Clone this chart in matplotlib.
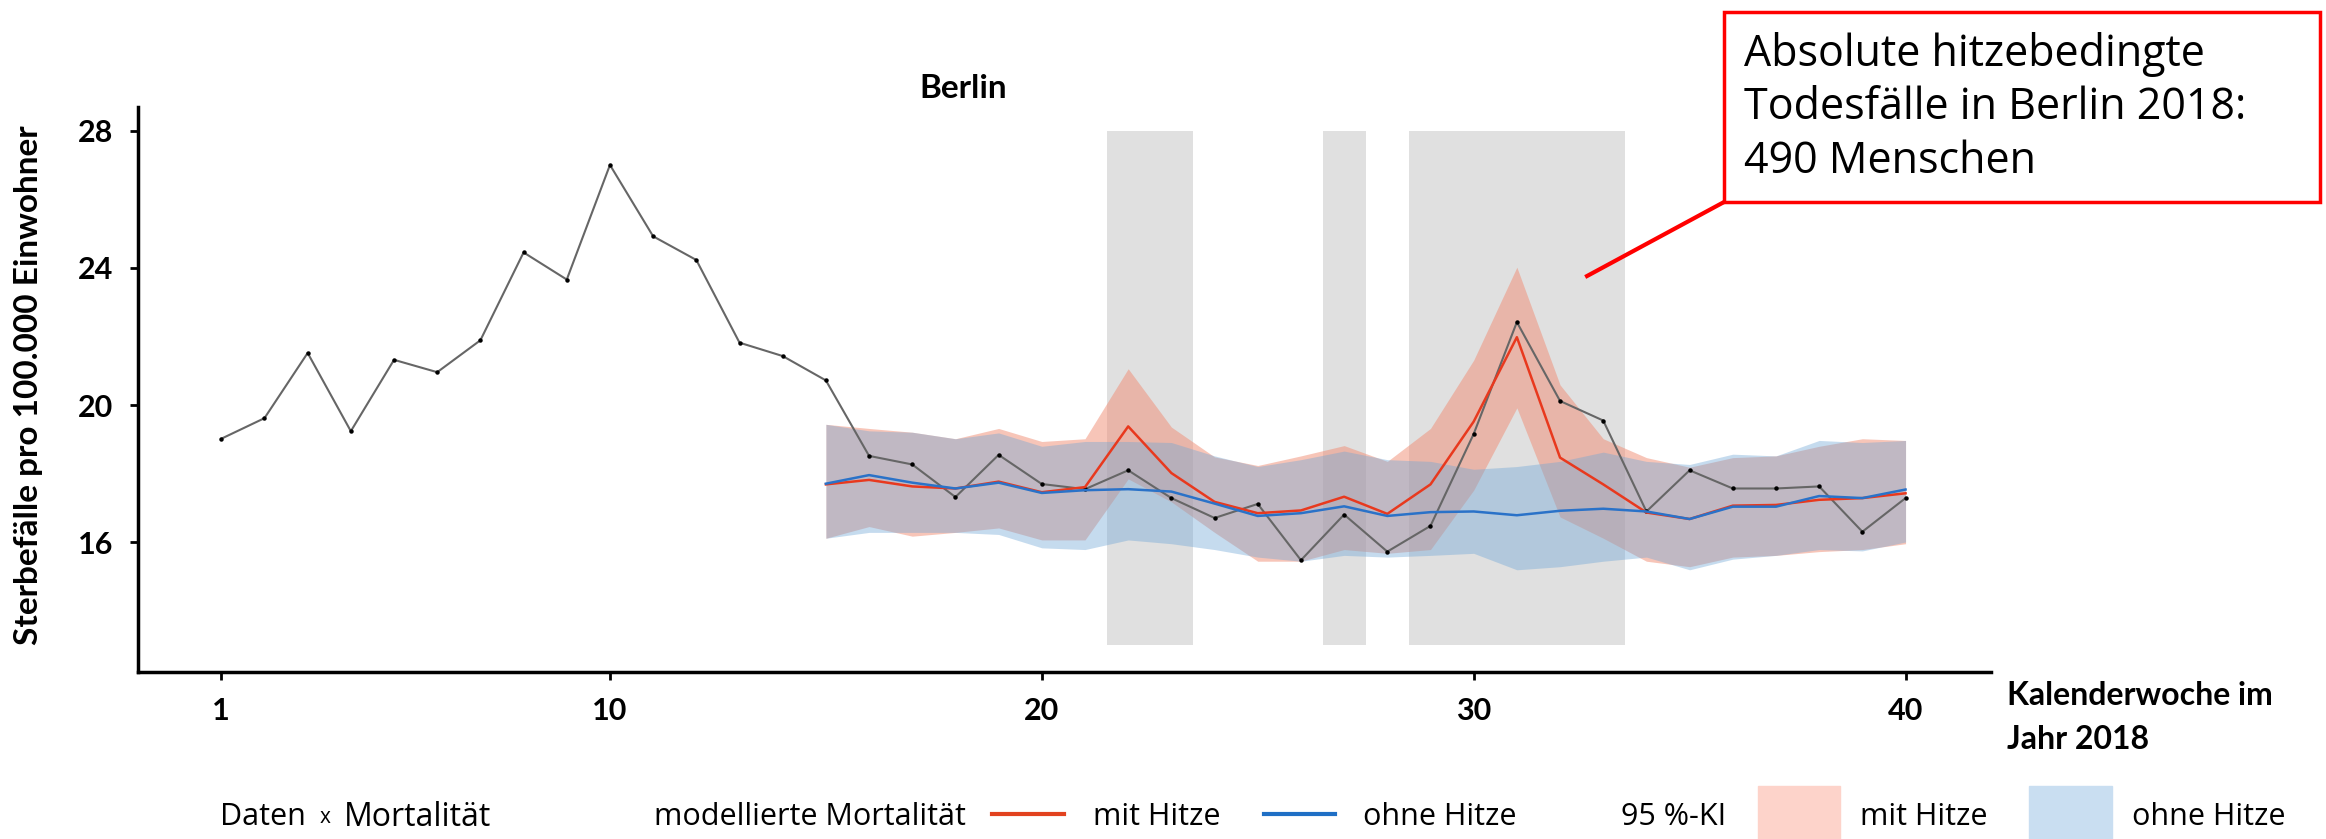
import matplotlib
matplotlib.use("Agg")
import matplotlib.pyplot as plt
from matplotlib.lines import Line2D
from matplotlib.patches import Rectangle

# observed mortality, weeks 1..40
weeks = list(range(1, 41))
observed = [19.02, 19.62, 21.52, 19.24, 21.32, 20.96, 21.89, 24.45, 23.66, 27.0,
            24.92, 24.23, 21.82, 21.43, 20.72, 18.52, 18.27, 17.32, 18.55, 17.70,
            17.55, 18.10, 17.29, 16.71, 17.12, 15.48, 16.81, 15.73, 16.48, 19.16,
            22.42, 20.12, 19.55, 16.90, 18.10, 17.57, 17.57, 17.63, 16.31, 17.29]

# modelled mortality, weeks 15..40
model_weeks = list(range(15, 41))
mit_hitze = [17.69, 17.82, 17.63, 17.57, 17.77, 17.46, 17.61, 19.38, 18.02, 17.18,
             16.85, 16.93, 17.33, 16.83, 17.69, 19.52, 21.98, 18.47, 17.69, 16.87,
             16.68, 17.07, 17.09, 17.24, 17.29, 17.43]
ohne_hitze = [17.71, 17.96, 17.74, 17.57, 17.74, 17.44, 17.52, 17.55, 17.48, 17.13,
              16.77, 16.85, 17.05, 16.77, 16.88, 16.90, 16.79, 16.92, 16.98, 16.90,
              16.68, 17.04, 17.04, 17.35, 17.29, 17.54]
mit_hi = [19.44, 19.32, 19.21, 19.02, 19.32, 18.94, 19.02, 21.06, 19.36, 18.49,
          18.24, 18.52, 18.82, 18.36, 19.32, 21.31, 24.02, 20.59, 19.02, 18.47,
          18.19, 18.47, 18.52, 18.80, 19.02, 18.97]
mit_lo = [16.12, 16.46, 16.18, 16.29, 16.42, 16.07, 16.07, 17.85, 17.18, 16.29,
          15.45, 15.45, 15.79, 15.68, 15.79, 17.52, 19.92, 16.74, 16.12, 15.45,
          15.29, 15.57, 15.62, 15.73, 15.79, 15.96]
ohne_hi = [19.44, 19.25, 19.21, 19.02, 19.19, 18.80, 18.94, 18.94, 18.91, 18.52,
           18.21, 18.41, 18.66, 18.41, 18.36, 18.13, 18.21, 18.36, 18.63, 18.36,
           18.27, 18.57, 18.52, 18.97, 18.91, 18.97]
ohne_lo = [16.12, 16.29, 16.29, 16.29, 16.23, 15.84, 15.79, 16.07, 15.96, 15.79,
           15.57, 15.45, 15.62, 15.57, 15.62, 15.68, 15.20, 15.29, 15.45, 15.57,
           15.20, 15.51, 15.62, 15.79, 15.75, 16.01]

# heat wave periods (start, end week)
heat_periods = [(21.5, 23.5), (26.5, 27.5), (28.5, 33.5)]

x_ticks = [1, 10, 20, 30, 40]
y_ticks = [16, 20, 24, 28]

RED = "#e8391e"
BLUE = "#2a72c8"
FONT = "Lato"

fig = plt.figure(figsize=(23.26, 8.39), dpi=100)
ax = fig.add_axes([0.0593, 0.199, 0.7967, 0.6735])

for a, b in heat_periods:
    ax.fill_between([a, b], 13, 28, color="#e0e0e0", lw=0, zorder=1)

ax.fill_between(model_weeks, mit_lo, mit_hi, color="#f08c73", alpha=0.5, lw=0, zorder=2)
ax.fill_between(model_weeks, ohne_lo, ohne_hi, color="#6fa6d6", alpha=0.4, lw=0, zorder=3)

ax.plot(weeks, observed, color="#666666", lw=1.5, zorder=4)
ax.plot(weeks, observed, "o", color="black", ms=2.2, zorder=5)
ax.plot(model_weeks, mit_hitze, color=RED, lw=1.8, zorder=6)
ax.plot(model_weeks, ohne_hitze, color=BLUE, lw=1.8, zorder=6)

ax.set_xlim(-0.93, 41.98)
ax.set_ylim(12.22, 28.69)
ax.set_xticks(x_ticks)
ax.set_yticks(y_ticks)
ax.set_xticklabels([str(t) for t in x_ticks], fontsize=22, fontweight="bold", family=FONT)
ax.set_yticklabels([str(t) for t in y_ticks], fontsize=22, fontweight="bold", family=FONT)
ax.tick_params(axis="both", length=6, width=2, pad=12)
for s in ["top", "right"]:
    ax.spines[s].set_visible(False)
for s in ["left", "bottom"]:
    ax.spines[s].set_linewidth(2.5)

ax.set_ylabel("Sterbefälle pro 100.000 Einwohner", fontsize=24, fontweight="bold",
              family=FONT, va="center")
ax.yaxis.set_label_coords(-0.0588, 0.508)
fig.text(0.414, 0.894, "Berlin", fontsize=24, fontweight="bold", family=FONT,
         ha="center", va="center")
fig.text(0.8629, 0.188, "Kalenderwoche im\nJahr 2018", fontsize=23, fontweight="bold",
         family=FONT, ha="left", va="top", linespacing=1.6)

# legend row
LEG = "Open Sans"
ly = 0.026
fig.text(0.0944, ly, "Daten", fontsize=22, family=LEG, va="center")
fig.text(0.1375, ly, "x", fontsize=15, family=LEG, va="center")
fig.text(0.1479, ly, "Mortalität", fontsize=23, family=LEG, va="center")
fig.text(0.2812, ly, "modellierte Mortalität", fontsize=22, family=LEG, va="center")
fig.add_artist(Line2D([0.4265, 0.4574], [ly + 0.004, ly + 0.004], color="#e2421f", lw=3,
                      transform=fig.transFigure))
fig.text(0.4699, ly, "mit Hitze", fontsize=22, family=LEG, va="center")
fig.add_artist(Line2D([0.5434, 0.5739], [ly + 0.004, ly + 0.004], color="#1f6fc5", lw=3,
                      transform=fig.transFigure))
fig.text(0.586, ly, "ohne Hitze", fontsize=22, family=LEG, va="center")
fig.text(0.6969, ly, "95 %-KI", fontsize=22, family=LEG, va="center")
fig.add_artist(Rectangle((0.7558, 0.0), 0.0353, 0.063, color="#fdd3ca",
                         transform=fig.transFigure))
fig.text(0.7997, ly, "mit Hitze", fontsize=22, family=LEG, va="center")
fig.add_artist(Rectangle((0.8723, 0.0), 0.0357, 0.063, color="#c9def1",
                         transform=fig.transFigure))
fig.text(0.9166, ly, "ohne Hitze", fontsize=22, family=LEG, va="center")

# annotation box
fig.add_artist(Line2D([0.6823, 0.7412], [0.671, 0.7592], color="red", lw=3,
                      transform=fig.transFigure))
fig.add_artist(Rectangle((0.7412, 0.7592), 0.2562, 0.2265, fill=False, ec="red", lw=2.5,
                         transform=fig.transFigure))
fig.text(0.7498, 0.962, "Absolute hitzebedingte\nTodesfälle in Berlin 2018:\n490 Menschen",
         fontsize=31, family=LEG, ha="left", va="top", linespacing=1.27)

fig.savefig("out.png", dpi=100, facecolor="white")
